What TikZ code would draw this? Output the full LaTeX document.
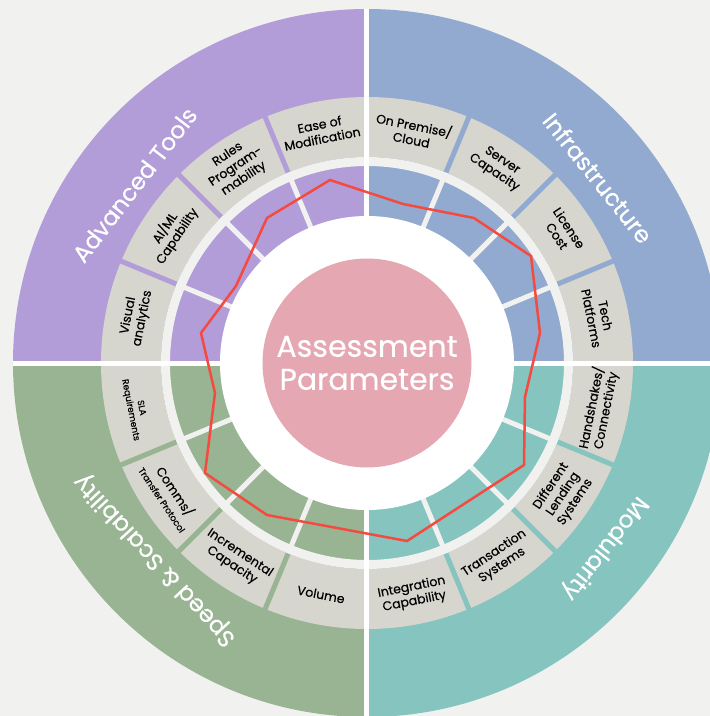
\documentclass[tikz,border=0pt]{standalone}
\usepackage{fontspec}
\setmainfont{Poppins}[FakeBold=0.4]
\usepackage{tikz}
\definecolor{bgcol}{HTML}{F1F1EF}
\definecolor{toolcol}{HTML}{B29DD9}
\definecolor{infracol}{HTML}{92AAD0}
\definecolor{speedcol}{HTML}{98B492}
\definecolor{modcol}{HTML}{85C4BF}
\definecolor{segcol}{HTML}{D6D5CE}
\definecolor{centercol}{HTML}{E5A8B2}
\definecolor{radarred}{HTML}{F44A3F}
\tikzset{
    seglabel/.style={align=center, text=black, font=\fontsize{12.5}{14.5}\selectfont},
    smalllabel/.style={align=center, text=black, font=\fontsize{9}{11}\selectfont},
    ringlabel/.style={text=white, font=\fontsize{23.5}{26}\selectfont},
    gapline/.style={line width=5pt},
    radar/.style={draw=radarred, line width=2.5pt}
}
\begin{document}
\begin{tikzpicture}[x=1pt, y=1pt]

    % Background
    \useasboundingbox (-367,-353) rectangle (343,363);
    \fill[bgcol] (-367,-353) rectangle (343,363);

    % Quadrants
    \fill[toolcol] (0,0) -- (90:354pt) arc[start angle=90, end angle=180, radius=354pt] -- cycle;
    \fill[infracol] (0,0) -- (0:354pt) arc[start angle=0, end angle=90, radius=354pt] -- cycle;
    \fill[speedcol] (0,0) -- (180:354pt) arc[start angle=180, end angle=270, radius=354pt] -- cycle;
    \fill[modcol] (0,0) -- (270:354pt) arc[start angle=270, end angle=360, radius=354pt] -- cycle;

    % Parameter ring
    \fill[segcol, even odd rule] (0,0) circle[radius=266pt] (0,0) circle[radius=206pt];
    \draw[gapline, toolcol] (112.5:200pt) -- (112.5:270pt) (135:200pt) -- (135:270pt) (157.5:200pt) -- (157.5:270pt);
    \draw[gapline, infracol] (22.5:200pt) -- (22.5:270pt) (45:200pt) -- (45:270pt) (67.5:200pt) -- (67.5:270pt);
    \draw[gapline, speedcol] (202.5:200pt) -- (202.5:270pt) (225:200pt) -- (225:270pt) (247.5:200pt) -- (247.5:270pt);
    \draw[gapline, modcol] (292.5:200pt) -- (292.5:270pt) (315:200pt) -- (315:270pt) (337.5:200pt) -- (337.5:270pt);
    \fill[bgcol, even odd rule] (0,0) circle[radius=206pt] (0,0) circle[radius=197pt];
    \draw[gapline, bgcol] (22.5:140pt) -- (22.5:206pt) (45:140pt) -- (45:206pt) (67.5:140pt) -- (67.5:206pt)
        (112.5:140pt) -- (112.5:206pt) (135:140pt) -- (135:206pt) (157.5:140pt) -- (157.5:206pt)
        (202.5:140pt) -- (202.5:206pt) (225:140pt) -- (225:206pt) (247.5:140pt) -- (247.5:206pt)
        (292.5:140pt) -- (292.5:206pt) (315:140pt) -- (315:206pt) (337.5:140pt) -- (337.5:206pt);

    % Centre
    \fill[white] (0,0) circle[radius=147pt];
    \draw[gapline, white] (-354,0) -- (354,0) (0,-354) -- (0,354);
    \node (params) [circle, fill=centercol, minimum size=209pt, inner sep=0pt, text=white, align=center,
        font=\fontsize{30}{33}\selectfont] at (0,0) {Assessment\\Parameters};

    % Radar
    \draw[radar] (-37,183) -- (-100,145) -- (-131,77) -- (-166,30) -- (-152,-30) -- (-162,-110) -- (-100,-152)
        -- (40,-178) -- (157,-102) -- (158,-34) -- (173,30) -- (164,107) -- (107,145) -- (36,159) -- cycle;

    % Parameters
    \node (ease) [seglabel, rotate=11.25] at (101.25:236pt) {Ease of\\Modification};
    \node (rules) [seglabel, rotate=33.75] at (123.75:236pt) {Rules\\Program-\\mability};
    \node (aiml) [seglabel, rotate=56.25] at (146.25:236pt) {AI/ML\\Capability};
    \node (visual) [seglabel, rotate=78.75] at (168.75:236pt) {Visual\\analytics};
    \node (onprem) [seglabel, rotate=-11.25] at (78.75:236pt) {On Premise/\\Cloud};
    \node (server) [seglabel, rotate=-33.75] at (56.25:236pt) {Server\\Capacity};
    \node (license) [seglabel, rotate=-56.25] at (33.75:236pt) {License\\Cost};
    \node (tech) [seglabel, rotate=-78.75] at (11.25:236pt) {Tech\\Platforms};
    \node (sla) [smalllabel, rotate=-78.75] at (191.25:236pt) {SLA\\Requirements};
    \node (comms) [seglabel, rotate=-56.25] at (213.75:237pt) {Comms/\\{\fontsize{9}{11}\selectfont Transfer Protocol}};
    \node (incr) [seglabel, rotate=-33.75] at (236.25:236pt) {Incremental\\Capacity};
    \node (volume) [seglabel, rotate=-11.25] at (258.75:236pt) {Volume};
    \node (integ) [seglabel, rotate=11.25] at (281.25:236pt) {Integration\\Capability};
    \node (trans) [seglabel, rotate=33.75] at (303.75:236pt) {Transaction\\Systems};
    \node (lending) [seglabel, rotate=56.25] at (326.25:236pt) {Different\\Lending\\Systems};
    \node (handsh) [seglabel, rotate=78.75] at (348.75:236pt) {Handshakes/\\Connectivity};

    % Pillars
    \node (tools) [ringlabel, rotate=52.5] at (142.5:293pt) {Advanced Tools};
    \node (infra) [ringlabel, rotate=-51.3] at (38.7:296pt) {Infrastructure};
    \node (speed) [ringlabel, rotate=132.9] at (222.9:289pt) {Speed \& Scalability};
    \node (modul) [ringlabel, rotate=232.1] at (322.1:301pt) {Modularity};

\end{tikzpicture}
\end{document}
